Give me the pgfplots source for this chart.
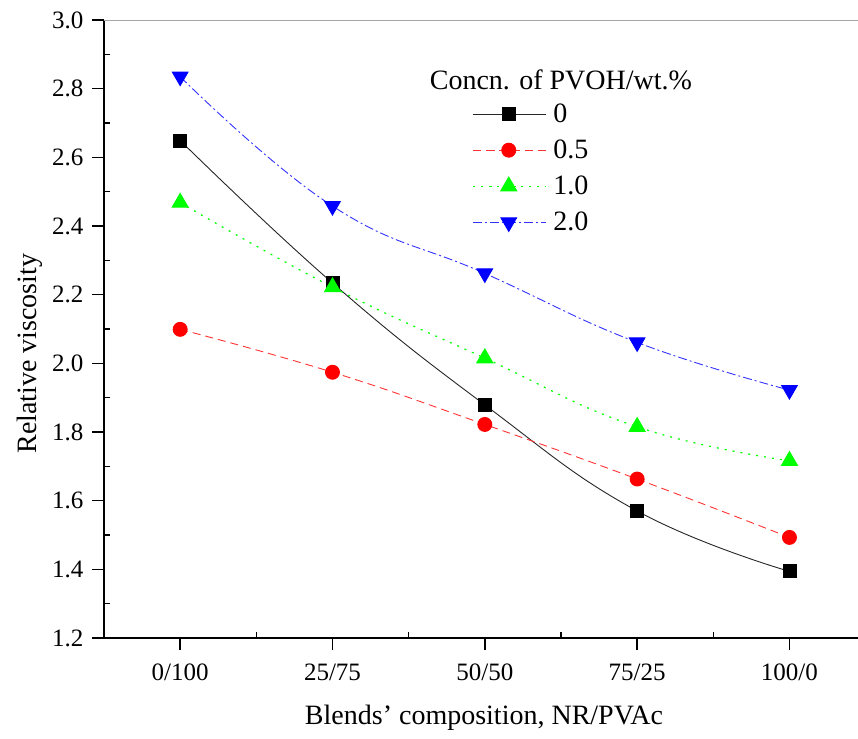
\documentclass[border=0pt]{standalone}
\usepackage{fontspec}
\setmainfont{Liberation Serif}
\usepackage{pgfplots}
\pgfplotsset{compat=1.18}

\definecolor{pgreen}{HTML}{00FF00}

\begin{document}
\begin{tikzpicture}
\begin{axis}[
  scale only axis,
  width=754pt, height=618pt,
  xmin=-0.5, xmax=4.45, ymin=1.2, ymax=3.0,
  axis x line*=bottom, axis y line*=left,
  axis line style={black, line width=1.6pt, -},
  tick style={black, line width=1.6pt},
  tick align=outside, major tick length=12pt,
  xtick={0,1,2,3,4},
  xticklabels={0/100,25/75,50/50,75/25,100/0},
  ytick={1.2,1.4,...,3.01},
  extra x ticks={0.5,1.5,2.5,3.5},
  extra x tick labels={},
  extra y ticks={1.3,1.5,1.7,1.9,2.1,2.3,2.5,2.7,2.9},
  extra y tick labels={},
  extra tick style={tick align=inside, major tick length=6pt},
  /pgf/number format/assume math mode=true,
  /pgf/number format/fixed, /pgf/number format/fixed zerofill,
  /pgf/number format/precision=1,
  every tick label/.style={font=\fontsize{25pt}{28pt}\selectfont},
  xticklabel style={yshift=-10pt},
  yticklabel style={xshift=-5pt},
  xlabel={Blends' composition, NR/PVAc},
  ylabel={Relative viscosity},
  every axis x label/.style={at={(axis description cs:0.504,-0.129)}, anchor=center, font=\fontsize{28pt}{32pt}\selectfont},
  every axis y label/.style={at={(axis description cs:-0.098,0.46)}, anchor=center, rotate=90, font=\fontsize{28pt}{32pt}\selectfont},
  clip=false,
  legend style={draw=none, fill=none, at={(axis description cs:0.488,0.866)}, anchor=north west,
    font=\fontsize{28pt}{32pt}\selectfont, row sep=14pt, inner sep=0pt,
    nodes={inner ysep=1pt, inner xsep=7pt}},
  legend cell align=left,
  legend image code/.code={
    \draw[mark repeat=2, mark phase=2, #1] plot coordinates {(0pt,0pt) (36pt,0pt) (73pt,0pt)};
  },
]
% thin top frame line
\draw[gray!70, line width=0.8pt] (rel axis cs:0,1) -- (rel axis cs:1,1);

\addplot[black!85, line width=0.9pt, smooth, tension=0.75, mark=square*, mark size=6.5pt,
  mark options={solid, black}] coordinates {
  (0,2.649) (1,2.234) (2,1.879) (3,1.570) (4,1.394)};
\addlegendentry{0}
\addplot[red!80, line width=0.9pt, dash pattern=on 8pt off 5pt, smooth, tension=0.75, mark=*, mark size=7pt,
  mark options={solid, red}] coordinates {
  (0,2.099) (1,1.974) (2,1.822) (3,1.663) (4,1.493)};
\addlegendentry{0.5}
\addplot[pgreen, line width=1.2pt, dash pattern=on 2pt off 6pt, smooth, tension=0.75, mark=triangle*, mark size=9pt,
  mark options={solid, pgreen}] coordinates {
  (0,2.468) (1,2.222) (2,2.015) (3,1.815) (4,1.716)};
\addlegendentry{1.0}
\addplot[blue!80, line width=0.9pt, dash pattern=on 9pt off 3pt on 2pt off 3pt, smooth, tension=0.75, mark=triangle*, mark size=9pt,
  mark options={solid, blue, rotate=180}] coordinates {
  (0,2.835) (1,2.458) (2,2.262) (3,2.061) (4,1.922)};
\addlegendentry{2.0}

\node[font=\fontsize{28pt}{32pt}\selectfont, anchor=center] at (axis description cs:0.606,0.903) {Concn. of PVOH/wt.\%};
\end{axis}
\pgfresetboundingbox
\path (-104pt,-100pt) rectangle (754pt,638pt);
\end{tikzpicture}
\end{document}
